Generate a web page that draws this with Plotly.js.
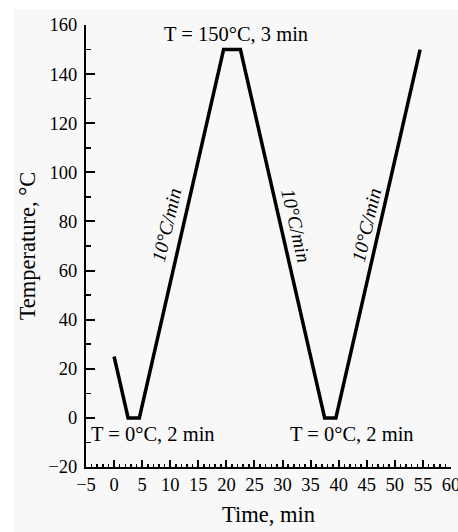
<!DOCTYPE html>
<html>
<head>
<meta charset="utf-8">
<script src="https://cdn.plot.ly/plotly-3.0.1.min.js"></script>
<style>
  html, body { margin: 0; padding: 0; background: #ffffff; }
  #chart { position: absolute; left: 13px; top: 9px; width: 445px; height: 523px; }
</style>
</head>
<body>
<div id="chart"></div>
<script>
// Thermal cycle programme: time (min) vs. temperature (°C)
const timeMin = [0, 2.5, 4.5, 19.5, 22.5, 37.5, 39.5, 54.5];
const tempC   = [25, 0, 0, 150, 150, 0, 0, 150];

// Hold-step labels
const holdText = ['T = 150°C, 3 min', 'T = 0°C, 2 min', 'T = 0°C, 2 min'];
const holdX    = [21.8, 7.0, 42.4];
const holdY    = [156.5, -6.5, -6.5];

// Ramp-rate labels along the sloped segments
const rampText  = ['10°C/min', '10°C/min', '10°C/min'];
const rampX     = [9.3, 32.4, 44.9];
const rampY     = [78.5, 78.5, 78.5];
const rampAngle = [-77, 77, -77];

const serif = 'Liberation Serif';

const annotations = [];
holdText.forEach((t, i) => annotations.push({
  text: t, x: holdX[i], y: holdY[i], xref: 'x', yref: 'y',
  showarrow: false, font: {family: serif, size: 20.5, color: '#000'}
}));
rampText.forEach((t, i) => annotations.push({
  text: t, x: rampX[i], y: rampY[i], xref: 'x', yref: 'y',
  showarrow: false, textangle: rampAngle[i],
  font: {family: serif, size: 19.5, color: '#000', style: 'italic'}
}));

const trace = {
  x: timeMin, y: tempC, type: 'scatter', mode: 'lines',
  line: {color: '#000', width: 3.5},
  hoverinfo: 'skip'
};

function axis(extra) {
  return Object.assign({
    showgrid: false, zeroline: false, showline: true,
    linecolor: '#000', linewidth: 2,
    ticks: 'inside', tickcolor: '#000', tickwidth: 2,
    tickfont: {family: serif, size: 18.5, color: '#000'},
    ticklabeloverflow: 'allow',
    mirror: false, fixedrange: true
  }, extra);
}

const layout = {
  width: 445, height: 523,
  margin: {l: 73, r: 7, t: 16, b: 65},
  font: {family: serif, color: '#000'},
  paper_bgcolor: '#f8f8f8', plot_bgcolor: 'rgba(0,0,0,0)',
  showlegend: false,
  xaxis: axis({
    range: [-5, 60], dtick: 5, tick0: 0, ticklen: 7,
    minor: {dtick: 1, ticks: 'inside', ticklen: 3.5, tickcolor: '#000', tickwidth: 1.5},
    title: {text: 'Time, min', font: {family: serif, size: 22.5, color: '#000'}, standoff: 12}
  }),
  yaxis: axis({
    range: [-20, 160], dtick: 20, tick0: 0, ticklen: 9,
    ticklabelstandoff: 3,
    minor: {dtick: 10, ticks: 'inside', ticklen: 5, tickcolor: '#000', tickwidth: 1.5},
    title: {text: 'Temperature, °C', font: {family: serif, size: 22.5, color: '#000'}, standoff: 6}
  }),
  annotations: annotations
};

Plotly.newPlot('chart', [trace], layout, {staticPlot: true, displayModeBar: false});
</script>
</body>
</html>
